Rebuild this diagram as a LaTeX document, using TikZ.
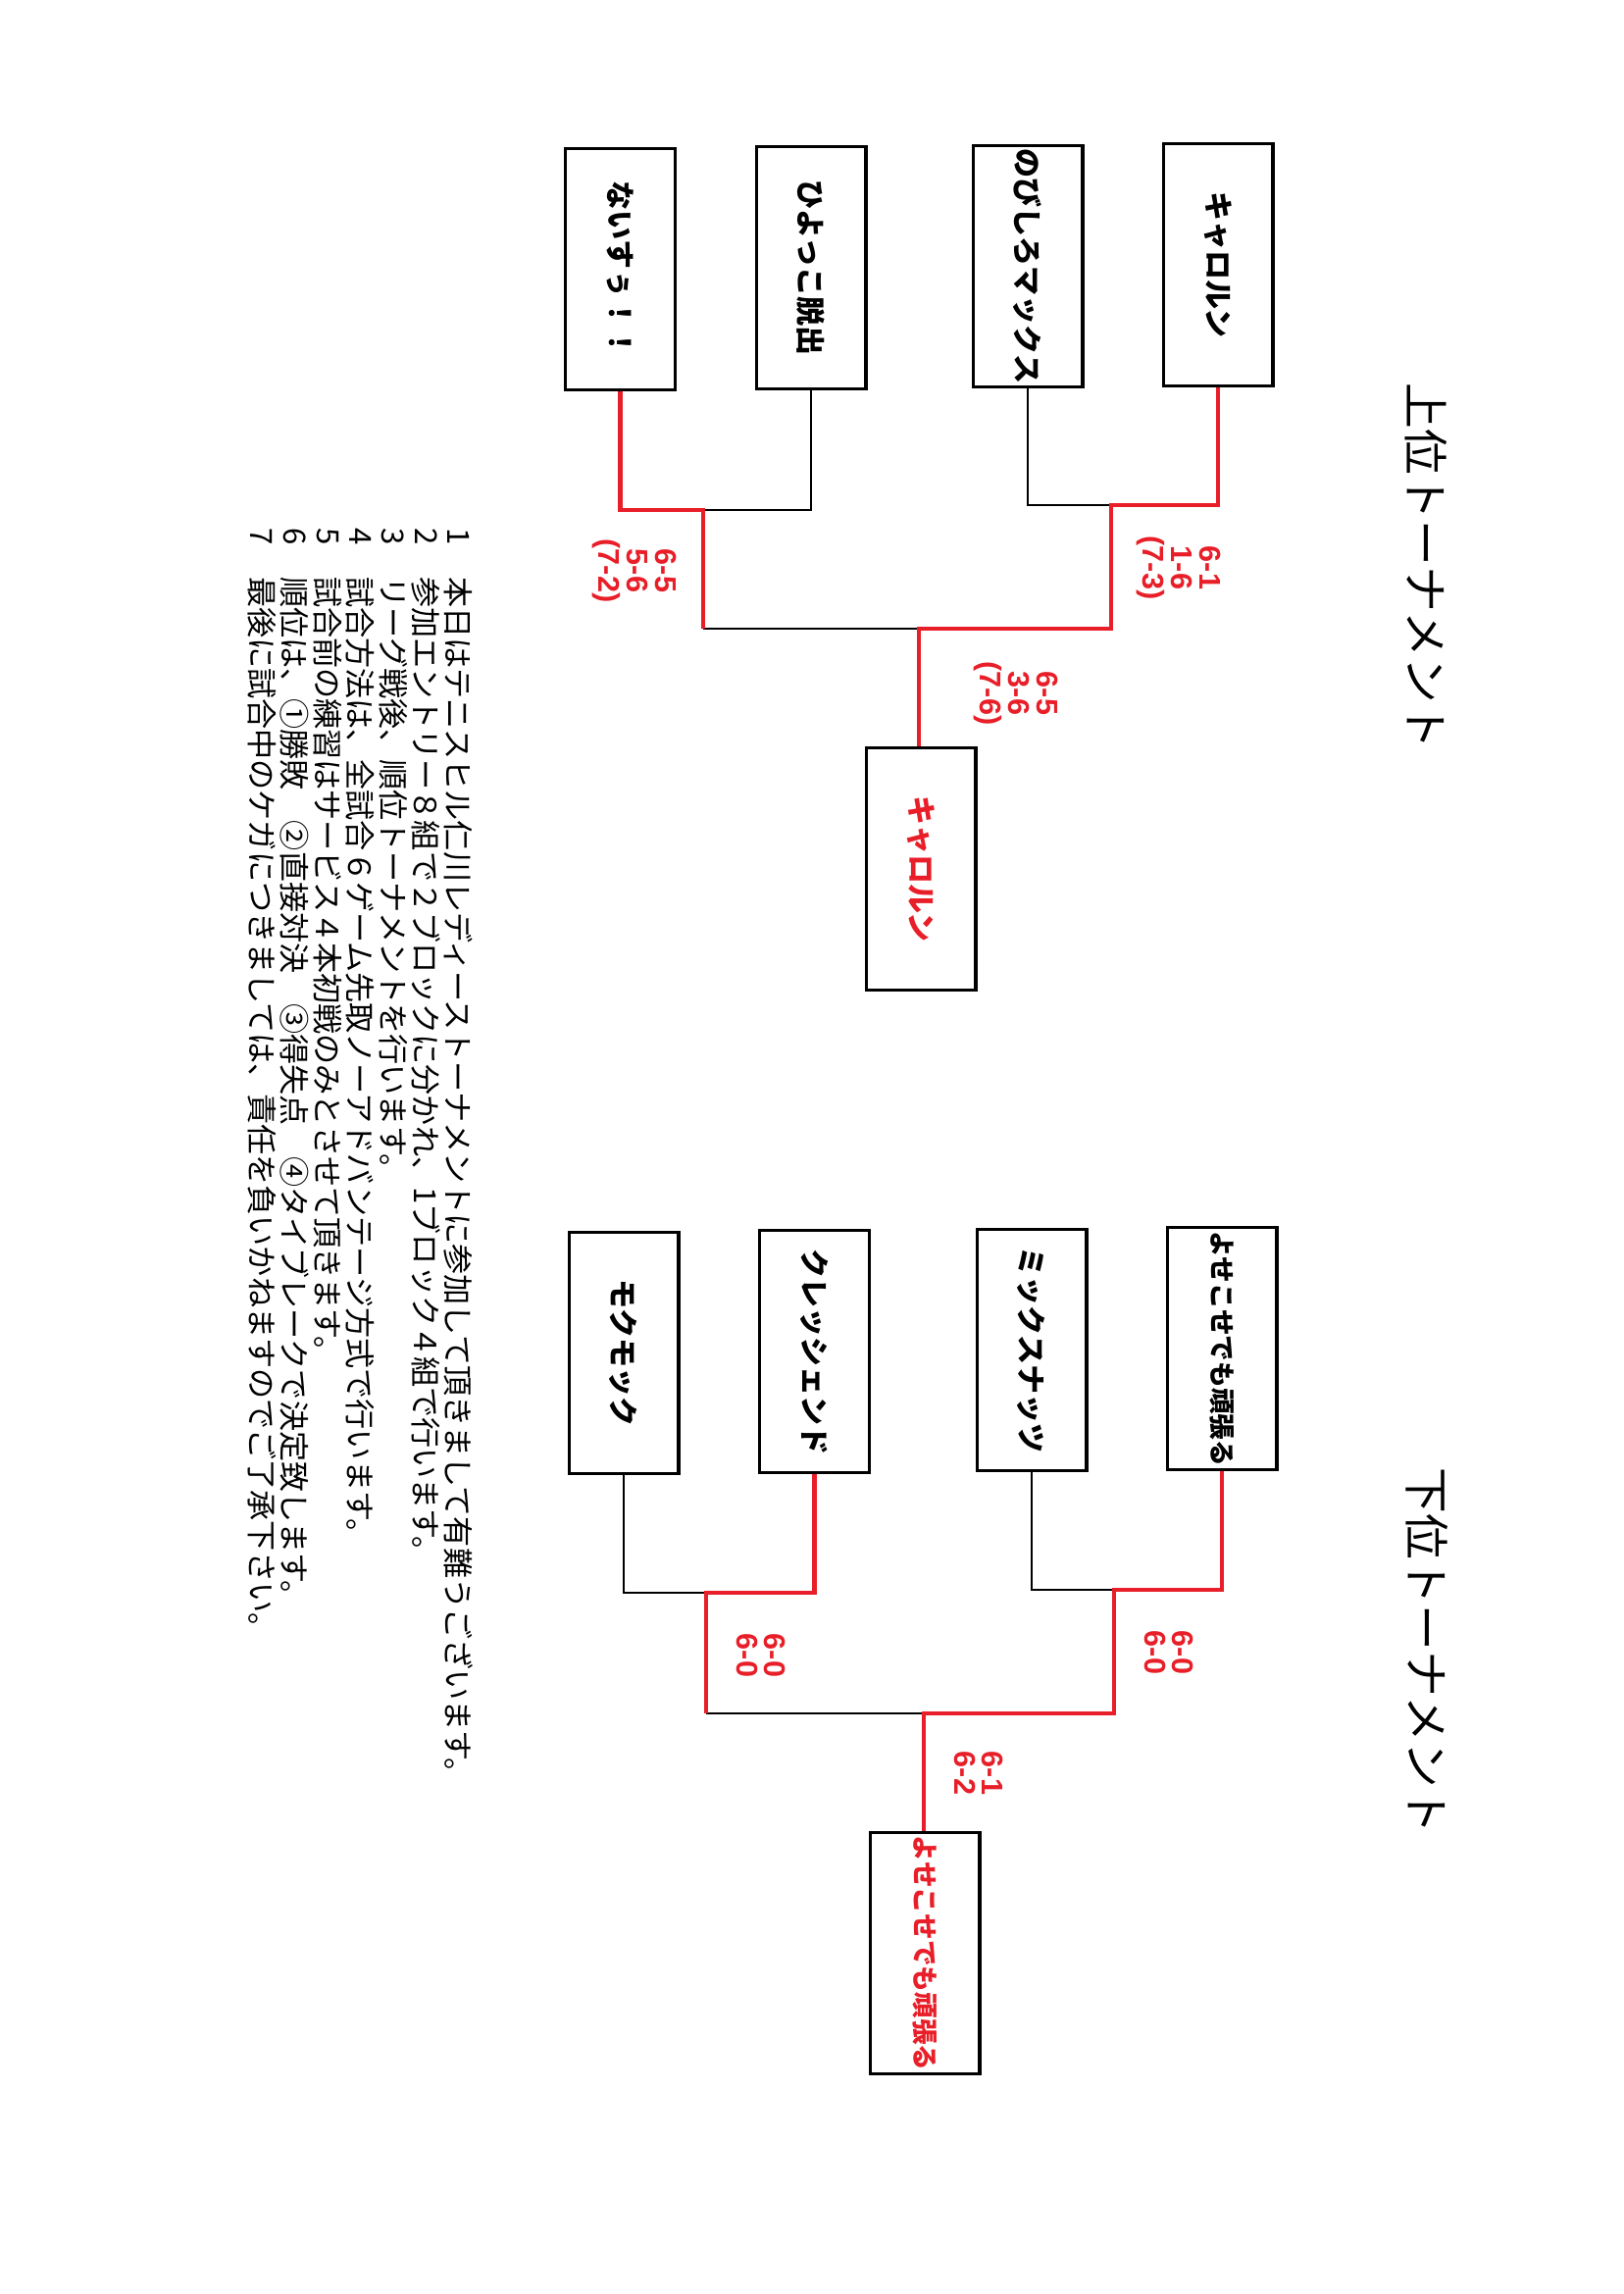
\documentclass[tikz,border=0pt]{standalone}
\usepackage{fontspec}
\setmainfont{Noto Sans CJK JP}
\newfontfamily\scorefont{Liberation Sans}
\definecolor{tred}{RGB}{232,30,40}
\tikzset{every picture/.style={line width=0.75pt}}

\begin{document}
\begin{tikzpicture}[x=0.36pt,y=0.36pt,yscale=-1,xscale=1,
	team/.style={draw,line width=1.1pt,rotate=-90,minimum width=88.6pt,minimum height=40.3pt,inner sep=0pt,font=\fontsize{10.8pt}{10.8pt}\selectfont\bfseries},
	champ/.style={team,text=tred},
	loseline/.style={line width=0.9pt,black},
	winline/.style={line width=1.5pt,tred},
	score/.style={rotate=-90,align=center,text=tred,inner sep=0pt,font=\scorefont\bfseries\fontsize{11pt}{10.4pt}\selectfont},
	title/.style={rotate=-90,inner sep=0pt,font=\fontsize{16.8pt}{16.8pt}\selectfont},
	notenum/.style={rotate=-90,anchor=west,inner sep=0pt,font=\fontsize{11.2pt}{11.2pt}\selectfont},
	note/.style={notenum}]
	\useasboundingbox (0,0) rectangle (1656,2339);

	% Text Node
	\node [title] (uptitle) at (1454,577) {上位トーナメント};
	% Text Node
	\node [title] (lowtitle) at (1455,1683) {下位トーナメント};

	%Shape: Rectangle
	\node [team] (nais) at (632.5,274.5) {ないすぅ！！};
	%Shape: Rectangle
	\node [team] (hiyo) at (827,273) {ひよっこ脱出};
	%Shape: Rectangle
	\node [team] (nobi) at (1048,271.5) {のびしろマックス};
	%Shape: Rectangle
	\node [team] (kyaro) at (1242,270) {キャロルン};
	%Shape: Rectangle
	\node [champ] (upwin) at (939,886) {キャロルン};

	%Shape: Rectangle
	\node [team] (moku) at (636,1379.5) {モクモック};
	%Shape: Rectangle
	\node [team] (kure) at (830.5,1378) {クレッシェンド};
	%Shape: Rectangle
	\node [team] (mikk) at (1052,1376.5) {ミックスナッツ};
	%Shape: Rectangle
	\node [team,font=\fontsize{9.6pt}{9.6pt}\selectfont\bfseries] (yose) at (1246,1375) {よせこせでも頑張る};
	%Shape: Rectangle
	\node [champ,font=\fontsize{9.6pt}{9.6pt}\selectfont\bfseries] (lowwin) at (943,1991.5) {よせこせでも頑張る};

	% bracket joints
	\coordinate (ua) at (717,520);
	\coordinate (ub) at (1133,515);
	\coordinate (uc) at (937,641);
	\coordinate (la) at (720,1624);
	\coordinate (lb) at (1136,1621);
	\coordinate (lc) at (942,1747);

	%Straight Lines
	\draw [loseline] (hiyo.east) |- (ua);
	\draw [loseline] (nobi.east) |- (ub);
	\draw [loseline] (ua |- uc) -- (uc);
	\draw [winline] (nais.east) |- (ua) -- (ua |- uc);
	\draw [winline] (kyaro.east) |- (ub) -- (ub |- uc) -- (uc) -- (uc |- upwin.west);

	%Straight Lines
	\draw [loseline] (moku.east) |- (la);
	\draw [loseline] (mikk.east) |- (lb);
	\draw [loseline] (la |- lc) -- (lc);
	\draw [winline] (kure.east) |- (la) -- (la |- lc);
	\draw [winline] (yose.east) |- (lb) -- (lb |- lc) -- (lc) -- (lc |- lowwin.west);

	% Text Node
	\node [score] (s1) at (647,582) {6-5\\5-6\\(7-2)};
	% Text Node
	\node [score] (s2) at (1202,579) {6-1\\1-6\\(7-3)};
	% Text Node
	\node [score] (s3) at (1036,707) {6-5\\3-6\\(7-6)};
	% Text Node
	\node [score] (s4) at (776,1688) {6-0\\6-0};
	% Text Node
	\node [score] (s5) at (1192,1685) {6-0\\6-0};
	% Text Node
	\node [score] (s6) at (998,1808) {6-1\\6-2};

	% Text Node
	\node [notenum] (n1) at (468,537) {1};
	\node [note] (t1) at (468,587) {本日はテニスヒル仁川レディーストーナメントに参加して頂きまして有難うございます。};
	% Text Node
	\node [notenum] (n2) at (434.5,537) {2};
	\node [note] (t2) at (434.5,587) {参加エントリー８組で２ブロックに分かれ、1ブロック４組で行います。};
	% Text Node
	\node [notenum] (n3) at (401,537) {3};
	\node [note] (t3) at (401,587) {リーグ戦後、順位トーナメントを行います。};
	% Text Node
	\node [notenum] (n4) at (367.5,537) {4};
	\node [note] (t4) at (367.5,587) {試合方法は、全試合６ゲーム先取ノーアドバンテージ方式で行います。};
	% Text Node
	\node [notenum] (n5) at (334,537) {5};
	\node [note] (t5) at (334,587) {試合前の練習はサービス４本初戦のみとさせて頂きます。};
	% Text Node
	\node [notenum] (n6) at (300.5,537) {6};
	\node [note] (t6) at (300.5,587) {順位は、①勝敗　②直接対決　③得失点　④タイブレークで決定致します。};
	% Text Node
	\node [notenum] (n7) at (267,537) {7};
	\node [note] (t7) at (267,587) {最後に試合中のケガにつきましては、責任を負いかねますのでご了承下さい。};

\end{tikzpicture}
\end{document}
